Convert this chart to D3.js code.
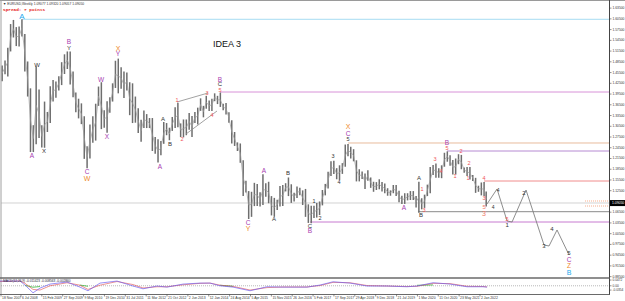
<!DOCTYPE html>
<html><head><meta charset="utf-8">
<script src="https://cdn.jsdelivr.net/npm/d3@7"></script>
<style>html,body{margin:0;padding:0;background:#fff;overflow:hidden}</style>
</head><body><svg id="c" width="625" height="301"></svg>
<script>
// ---------- DATA ----------
const firstMonth = "2007-11";
const highs = [
 1.4966,1.4750,
 1.4890,1.5240,1.5905,1.6020,1.5820,1.5840,1.6038,1.5630,1.4860,1.4110,1.3080,1.4720,
 1.4080,1.3080,1.3740,1.3450,1.4170,1.4340,1.4300,1.4450,1.4840,1.5060,1.5140,1.5140,
 1.4580,1.3990,1.3820,1.3690,1.3330,1.2490,1.3100,1.3330,1.3680,1.4160,1.4280,1.3500,
 1.3750,1.3860,1.4250,1.4880,1.4940,1.4700,1.4580,1.4550,1.4280,1.4250,1.3880,1.3550,
 1.3230,1.3490,1.3390,1.3280,1.3280,1.2750,1.2690,1.2640,1.3170,1.3140,1.3010,1.3310,
 1.3580,1.3710,1.3130,1.3240,1.3240,1.3420,1.3340,1.3450,1.3570,1.3830,1.3620,1.3900,
 1.3770,1.3820,1.3970,1.3900,1.3993,1.3680,1.3700,1.3440,1.3220,1.2890,1.2600,1.2570,
 1.2100,1.1530,1.1240,1.1220,1.1470,1.1440,1.1210,1.1710,1.1460,1.1500,1.1100,1.1050,
 1.1000,1.1380,1.1410,1.1460,1.1620,1.1430,1.1190,1.1370,1.1330,1.1260,1.1300,1.0870,
 1.0830,1.0830,1.0910,1.0950,1.1270,1.1440,1.1780,1.2070,1.2090,1.1880,1.1960,1.2020,
 1.2540,1.2555,1.2480,1.2410,1.2100,1.1850,1.1790,1.1730,1.1820,1.1620,1.1500,1.1490,
 1.1570,1.1490,1.1450,1.1320,1.1260,1.1410,1.1410,1.1250,1.1110,1.1180,1.1180,1.1240,
 1.1240,1.1100,1.1500,1.1040,1.1140,1.1420,1.1910,1.1970,1.2010,1.1880,1.1960,1.2310,
 1.2349,1.2240,1.2110,1.2150,1.2270,1.2250,1.1900,1.1910,1.1910,1.1690,1.1610,1.1390,
 1.1480,1.1495,1.1230
];
const lows = [
 1.4600,1.4310,
 1.4500,1.4440,1.5140,1.5530,1.5290,1.5280,1.5560,1.4580,1.3880,1.2330,1.2330,1.2550,
 1.2720,1.2460,1.2450,1.2890,1.3140,1.3740,1.3850,1.4050,1.4200,1.4510,1.4650,1.4220,
 1.3860,1.3440,1.3270,1.3110,1.2140,1.1876,1.2150,1.2590,1.2650,1.3620,1.2970,1.3010,
 1.2870,1.3430,1.3740,1.4120,1.3970,1.4100,1.3840,1.4050,1.3360,1.3140,1.3150,1.2860,
 1.2620,1.3000,1.3000,1.3000,1.2360,1.2280,1.2040,1.2240,1.2560,1.2800,1.2660,1.2920,
 1.3000,1.3020,1.2750,1.2740,1.2800,1.2950,1.2750,1.3140,1.3100,1.3480,1.3300,1.3540,
 1.3480,1.3480,1.3750,1.3670,1.3590,1.3500,1.3380,1.3150,1.2570,1.2500,1.2360,1.2030,
 1.1100,1.1200,1.0460,1.0520,1.0820,1.0820,1.0810,1.0850,1.1080,1.0900,1.0560,1.0520,
 1.0710,1.0810,1.0820,1.1230,1.1100,1.0910,1.0950,1.1050,1.1120,1.0850,1.0520,1.0350,
 1.0340,1.0490,1.0500,1.0570,1.0840,1.1120,1.1310,1.1660,1.1720,1.1570,1.1550,1.1720,
 1.1920,1.2210,1.2150,1.2070,1.1510,1.1510,1.1580,1.1300,1.1530,1.1330,1.1220,1.1270,
 1.1290,1.1230,1.1180,1.1110,1.1110,1.1180,1.1100,1.0930,1.0880,1.0880,1.0980,1.0990,
 1.0990,1.0780,1.0636,1.0730,1.0770,1.1100,1.1180,1.1690,1.1610,1.1610,1.1600,1.1920,
 1.2060,1.1950,1.1700,1.1700,1.1990,1.1850,1.1750,1.1660,1.1560,1.1520,1.1190,1.1220,
 1.1120,1.1100,1.0806
];
const chartStartDate = "2007-11-18";
const dataEndDate = "2022-03-18";

const timeLabels = ["18 Nov 2007","6 Jul 2008","15 Feb 2009","27 Sep 2009","9 May 2010","19 Dec 2010",
 "31 Jul 2011","11 Mar 2012","21 Oct 2012","2 Jun 2013","12 Jan 2014","24 Aug 2014","5 Apr 2015",
 "15 Nov 2015","26 Jun 2016","5 Feb 2017","17 Sep 2017","29 Apr 2018","9 Dec 2018","21 Jul 2019",
 "1 Mar 2020","11 Oct 2020","23 May 2021","2 Jan 2022"];
const priceTicks = [1.635,1.605,1.575,1.545,1.515,1.485,1.455,1.425,1.395,1.365,1.335,1.305,1.275,1.245,
 1.215,1.185,1.155,1.125,1.065,1.035,1.005,0.975,0.945,0.915,0.885];
const currentPrice = 1.09050;
const bidPrice = 1.0907;

// horizontal level lines: start (year), price, colour key
const levelStart = [2008.541, 2014.362, 2018.124, 2021.034, 2022.122, 2020.180, 2017.007];
const levelPrice = [1.6038, 1.4007, 1.2583, 1.2359, 1.1521, 1.0664, 1.0376];
const levelColor = ["cyanL","orchidL","tanL","purpleL","redL","greyL","magentaL"];

// order-like dotted lines near the price scale
const orderStart = [2025.09, 2025.09];
const orderPrice = [1.0963, 1.0823];

// wedge trend lines [[year,price],[year,price]]
const wedgeLines = [
 [[2013.098,1.3728],[2014.009,1.3979]],
 [[2013.362,1.2834],[2014.273,1.3477]]
];

// projected path
const projYears  = [2022.210, 2022.504, 2022.798, 2022.945, 2023.356, 2023.885, 2024.032, 2024.267, 2024.620];
const projPrices = [1.0879, 1.1298, 1.0404, 1.0376, 1.1270, 0.9734, 0.9706, 1.0153, 0.9455];

// wave labels: year, price, text, colour key, size
const waveLabels = [
 [2008.541,1.6125,"A","cyan",8],
 [2008.982,1.4761,"W","dark",6],
 [2009.923,1.5404,"B","purple",6.5],
 [2009.923,1.5236,"Y","dark",6],
 [2011.363,1.5236,"X","orange",7],
 [2011.363,1.5069,"Y","purple",6.5],
 [2010.864,1.4370,"W","purple",6.5],
 [2008.835,1.2220,"A","purple",6.5],
 [2009.188,1.2359,"X","dark",6],
 [2010.452,1.1773,"C","purple",6.5],
 [2010.452,1.1590,"W","orange",7],
 [2011.040,1.2778,"X","purple",6.5],
 [2012.686,1.3253,"A","dark",6],
 [2012.892,1.2555,"B","dark",6],
 [2012.598,1.1940,"A","purple",6.5],
 [2013.098,1.3784,"1","red",5.5],
 [2013.245,1.2694,"2","red",5.5],
 [2013.979,1.3979,"3","red",5.5],
 [2014.126,1.3365,"4","red",5.5],
 [2014.362,1.4063,"5","red",5.5],
 [2014.362,1.4231,"C","dark",6],
 [2014.362,1.4370,"B","purple",6.5],
 [2015.185,1.0376,"C","purple",6.5],
 [2015.185,1.0208,"Y","orange",7],
 [2015.655,1.1801,"A","purple",6.5],
 [2015.949,1.0460,"A","dark",6],
 [2016.360,1.1745,"B","dark",6],
 [2017.125,1.0963,"1","dark",5.5],
 [2017.301,1.0488,"2","dark",5.5],
 [2017.007,1.0264,"C","dark",6],
 [2017.007,1.0125,"B","purple",6.5],
 [2017.683,1.2220,"3","dark",5.5],
 [2017.860,1.1493,"4","dark",5.5],
 [2018.124,1.3030,"X","orange",7],
 [2018.124,1.2862,"C","purple",6.5],
 [2018.124,1.2694,"5","dark",5.5],
 [2019.770,1.0795,"A","purple",6.5],
 [2020.211,1.1605,"A","dark",6],
 [2020.270,1.0572,"B","dark",6],
 [2020.358,1.0711,"3","red",5.5],
 [2020.299,1.1298,"1","red",5.5],
 [2020.681,1.2136,"3","red",5.5],
 [2020.858,1.1801,"4","red",5.5],
 [2021.034,1.2443,"5","red",5.5],
 [2021.034,1.2583,"B","purple",6.5],
 [2021.269,1.1661,"1","red",5.5],
 [2021.446,1.2359,"2","red",5.5],
 [2021.681,1.2024,"2","red",5.5],
 [2021.651,1.1605,"1","red",5.5],
 [2022.122,1.1605,"4","red",5.5],
 [2022.122,1.1046,"3","red",5.5],
 [2022.122,1.0795,"5","salmon",6],
 [2022.122,1.0627,"3","salmon",7],
 [2022.533,1.1270,"4","dark",5],
 [2022.386,1.0795,"4","dark",5],
 [2022.798,1.0460,"5","red",5.5],
 [2022.798,1.0292,"1","dark",6],
 [2023.297,1.1186,"2","dark",6],
 [2023.885,0.9706,"3","dark",6],
 [2024.120,1.0180,"4","dark",6],
 [2024.620,0.9510,"5","dark",6],
 [2024.620,0.9338,"C","purple",6.5],
 [2024.620,0.9152,"Z","orange",6.5],
 [2024.620,0.8960,"B","cyan",7]
];

// oscillator (sub-window) samples
const oscYears = [2007.895,2008.483,2008.630,2008.865,2009.071,2009.364,2009.864,2010.246,2010.481,2010.834,
 2011.334,2011.804,2012.098,2012.510,2012.804,2013.274,2013.774,2014.068,2014.362,2014.744,2015.244,2015.743,
 2016.213,2016.919,2017.301,2017.683,2018.183,2018.683,2019.270,2019.858,2020.152,2020.623,2021.122,2021.622,
 2022.092,2022.210];
const macdVals = [0.039,0.039,0.006,-0.058,-0.019,0.014,0.031,-0.011,-0.041,0.022,0.039,-0.002,-0.025,-0.002,
 -0.011,0.014,0.022,0.022,0.000,-0.011,-0.041,-0.008,-0.011,-0.011,0.006,0.033,0.022,-0.002,-0.002,-0.008,
 -0.002,0.025,0.014,-0.008,-0.008,-0.011];
const signalVals = [0.035,0.040,0.020,-0.030,-0.035,0.000,0.025,0.005,-0.030,0.005,0.035,0.010,-0.018,-0.008,
 -0.008,0.008,0.020,0.022,0.005,-0.005,-0.035,-0.015,-0.010,-0.010,0.002,0.028,0.025,0.002,-0.002,-0.006,
 -0.004,0.020,0.018,-0.004,-0.006,-0.009];
const greenVals = [null,null,0.004,-0.012,-0.006,null,null,0.006,-0.004,null,null,null,null,null,null,null,null,
 null,0.004,-0.004,null,null,null,null,null,null,null,null,null,null,0.004,0.007,null,null,null,null];
const oscTickVals = [0.047177, 0, -0.035374];
const oscTickText = ["0.0472","0.00","-0.0354"];

// ---------- DRAW ----------
const colors = {cyan:"#1ea9ee", purple:"#a63cb0", orange:"#ee8a2c", dark:"#333333", red:"#f05555", salmon:"#f07a6a",
 cyanL:"#a6dcf2", orchidL:"#d892d8", tanL:"#e8bc9c", purpleL:"#b68ad2", redL:"#f08c8c", greyL:"#8a8a8a", magentaL:"#c77ad0"};

const svg = d3.select("#c");
const plotL = 1, plotR = 609, plotT = 1, plotB = 277;
const x = d3.scaleLinear().domain([2008.512, 2022.003]).range([21, 480]);
const y = d3.scaleLinear().domain([0.8840, 1.6549]).range([277, 1]);
const yi = d3.scaleLinear().domain([-0.066, 0.055]).range([293.8, 279.1]);

function fracYear(d){ const s=new Date(d.getFullYear(),0,1), e=new Date(d.getFullYear()+1,0,1); return d.getFullYear()+(d-s)/(e-s); }
const pISO = d3.timeParse("%Y-%m-%d"), pMonth = d3.timeParse("%Y-%m"), pLab = d3.timeParse("%-d %b %Y");
const cs = pISO(chartStartDate), de = pISO(dataEndDate), m0 = pMonth(firstMonth);

svg.append("rect").attr("width",625).attr("height",301).attr("fill","#fff");
svg.append("defs").append("clipPath").attr("id","clip").append("rect")
  .attr("x",plotL).attr("y",plotT).attr("width",plotR-plotL).attr("height",plotB-plotT);
const g = svg.append("g").attr("clip-path","url(#clip)");

// bid line
g.append("line").attr("x1",plotL).attr("x2",plotR).attr("y1",y(bidPrice)).attr("y2",y(bidPrice))
  .attr("stroke","#c8c8c8").attr("stroke-width",0.8);

// level lines
levelPrice.forEach((p,i)=>{
  g.append("line").attr("x1",x(levelStart[i])).attr("x2",plotR).attr("y1",y(p)).attr("y2",y(p))
   .attr("stroke",colors[levelColor[i]]).attr("stroke-width",1);
});
orderPrice.forEach((p,i)=>{
  g.append("line").attr("x1",x(orderStart[i])).attr("x2",plotR).attr("y1",y(p)).attr("y2",y(p))
   .attr("stroke","#f28a5a").attr("stroke-width",0.7).attr("stroke-dasharray","1,1");
});

// price bars (thin high-low bars)
const bars = highs.map((h,i)=>{
  const a=d3.timeMonth.offset(m0,i), b=d3.timeMonth.offset(m0,i+1);
  const s=a<cs?cs:a, e=b>de?de:b;
  return {xm:(fracYear(s)+fracYear(e))/2, h, l:lows[i]};
});
g.selectAll("line.bar").data(bars).join("line").attr("class","bar")
  .attr("x1",d=>x(d.xm)).attr("x2",d=>x(d.xm))
  .attr("y1",d=>y(d.h)).attr("y2",d=>y(d.l)).attr("stroke","#6e6e6e").attr("stroke-width",1.5);
g.append("path").attr("d",d3.line().x(d=>x(d.xm)).y(d=>y((d.h+d.l)/2))(bars))
  .attr("fill","none").attr("stroke","#9a9a9a").attr("stroke-width",0.7);

// wedge lines
const line = d3.line().x(d=>x(d[0])).y(d=>y(d[1]));
wedgeLines.forEach(w=>g.append("path").attr("d",line(w)).attr("fill","none").attr("stroke","#8a8a8a").attr("stroke-width",0.8));

// projection
g.append("path").attr("d",line(projYears.map((t,i)=>[t,projPrices[i]])))
  .attr("fill","none").attr("stroke","#808080").attr("stroke-width",0.9);

// wave labels
g.selectAll("text.wl").data(waveLabels).join("text").attr("class","wl")
  .attr("x",d=>x(d[0])).attr("y",d=>y(d[1])).attr("text-anchor","middle").attr("dominant-baseline","central")
  .attr("font-family","Liberation Sans, Arial, sans-serif").attr("font-size",d=>d[4]+"px")
  .attr("fill",d=>colors[d[3]]).text(d=>d[2]);

// title
svg.append("text").attr("x",213).attr("y",46.5).attr("font-family","Liberation Sans, Arial, sans-serif")
  .attr("font-size","9px").attr("fill","#111").text("IDEA 3");

// header
svg.append("text").attr("x",3).attr("y",5).attr("font-family","Liberation Sans, Arial, sans-serif")
  .attr("font-size","3.3px").attr("fill","#333").text("\u25BC EURUSD,Weekly  1.09077 1.09320 1.09057 1.09050");
svg.append("text").attr("x",3).attr("y",11).attr("font-family","Liberation Mono, monospace").attr("font-weight","bold")
  .attr("font-size","4.4px").attr("fill","#e62020").text("Spread: 7 points");

// frame
svg.append("line").attr("x1",0).attr("x2",625).attr("y1",0.5).attr("y2",0.5).attr("stroke","#9a9a9a");
svg.append("line").attr("x1",1).attr("x2",1).attr("y1",0).attr("y2",294).attr("stroke","#a0a0a0");
svg.append("line").attr("x1",609.5).attr("x2",609.5).attr("y1",0).attr("y2",295).attr("stroke","#444").attr("stroke-width",1);
svg.append("line").attr("x1",0).attr("x2",609.5).attr("y1",278).attr("y2",278).attr("stroke","#6a6a6a").attr("stroke-width",1.6);
svg.append("line").attr("x1",0).attr("x2",609.5).attr("y1",294.5).attr("y2",294.5).attr("stroke","#6a6a6a").attr("stroke-width",1);

// price axis
const ax = svg.append("g");
priceTicks.forEach(p=>{
  ax.append("line").attr("x1",609.5).attr("x2",611.5).attr("y1",y(p)).attr("y2",y(p)).attr("stroke","#444").attr("stroke-width",0.6);
  ax.append("text").attr("x",612.5).attr("y",y(p)).attr("dominant-baseline","central")
    .attr("font-family","Liberation Sans, Arial, sans-serif").attr("font-size","3.3px").attr("fill","#333").text(p.toFixed(5));
});
ax.append("rect").attr("x",610).attr("y",y(currentPrice)-3).attr("width",15).attr("height",6).attr("fill","#000");
ax.append("text").attr("x",612).attr("y",y(currentPrice)).attr("dominant-baseline","central")
  .attr("font-family","Liberation Sans, Arial, sans-serif").attr("font-size","3.4px").attr("fill","#fff").text(currentPrice.toFixed(5));

// oscillator window
svg.append("line").attr("x1",1).attr("x2",609).attr("y1",yi(0)).attr("y2",yi(0))
  .attr("stroke","#888").attr("stroke-width",0.6).attr("stroke-dasharray","1,1");
const oline = vals => d3.line().defined((d,i)=>vals[i]!==null).x((d,i)=>x(oscYears[i])).y((d,i)=>yi(vals[i]))(oscYears);
svg.append("path").attr("d",oline(greenVals)).attr("fill","none").attr("stroke","#3cb43c").attr("stroke-width",0.8);
svg.append("path").attr("d",oline(signalVals)).attr("fill","none").attr("stroke","#e04848").attr("stroke-width",0.7).attr("opacity",0.85);
svg.append("path").attr("d",oline(macdVals)).attr("fill","none").attr("stroke","#6a5af0").attr("stroke-width",0.8).attr("opacity",0.85);
svg.append("text").attr("x",3).attr("y",281.8).attr("font-family","Liberation Sans, Arial, sans-serif")
  .attr("font-size","3.2px").attr("fill","#223").text("MACD(12,26,9) -0.011423 -0.008563 -0.002860");
oscTickVals.forEach((v,i)=>{
  svg.append("line").attr("x1",609.5).attr("x2",611.5).attr("y1",yi(v)).attr("y2",yi(v)).attr("stroke","#444").attr("stroke-width",0.6);
  svg.append("text").attr("x",612.5).attr("y",yi(v)).attr("dominant-baseline","central")
    .attr("font-family","Liberation Sans, Arial, sans-serif").attr("font-size","3.2px").attr("fill","#333").text(oscTickText[i]);
});

// time axis
timeLabels.forEach(t=>{
  const xv = Math.max(1, x(fracYear(pLab(t))));
  svg.append("line").attr("x1",xv).attr("x2",xv).attr("y1",294.5).attr("y2",296.5).attr("stroke","#444").attr("stroke-width",0.6);
  svg.append("text").attr("x",xv+1).attr("y",298.8).attr("font-family","Liberation Sans, Arial, sans-serif")
    .attr("font-size","3.4px").attr("fill","#333").text(t);
});
</script></body></html>
